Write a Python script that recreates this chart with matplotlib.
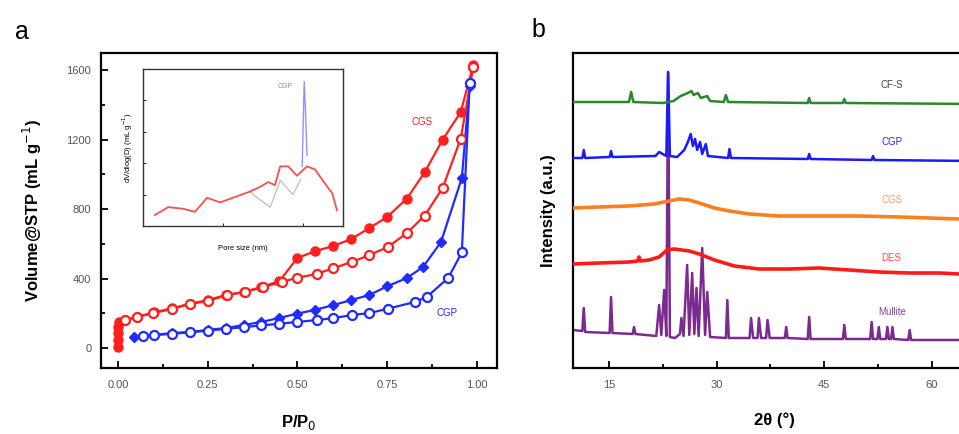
import numpy as np, matplotlib; matplotlib.use("Agg")
import matplotlib.pyplot as plt
from matplotlib.ticker import MultipleLocator

plt.rcParams['font.family'] = ['Liberation Sans', 'DejaVu Sans']

# --- (a) N2 isotherms ---
red_ads_x = [0.0, 0.0, 0.0, 0.0, 0.002, 0.02, 0.053, 0.1, 0.15, 0.2, 0.25, 0.3, 0.35, 0.4, 0.45,
             0.5, 0.55, 0.6, 0.65, 0.7, 0.75, 0.805, 0.855, 0.905, 0.955, 0.99]
red_ads_y = [5, 45, 85, 120, 150, 161, 178, 205, 228, 255, 275, 305, 322, 351, 385,
             518, 558, 587, 627, 690, 754, 860, 1013, 1200, 1358, 1630]
red_des_x = [0.99, 0.955, 0.905, 0.855, 0.805, 0.752, 0.70, 0.652, 0.60, 0.554, 0.50, 0.457,
             0.404, 0.354, 0.304, 0.25, 0.2, 0.15, 0.097, 0.053, 0.02]
red_des_y = [1620, 1205, 923, 762, 662, 581, 535, 495, 460, 426, 405, 380,
             351, 322, 305, 270, 253, 224, 201, 178, 161]
blue_ads_x = [0.045, 0.1, 0.15, 0.2, 0.25, 0.3, 0.35, 0.4, 0.45, 0.5, 0.55, 0.6, 0.65, 0.7,
              0.75, 0.805, 0.85, 0.9, 0.958, 0.98]
blue_ads_y = [63, 75, 86, 92, 104, 115, 132, 150, 173, 198, 220, 247, 276, 305,
              355, 403, 466, 610, 978, 1510]
blue_des_x = [0.98, 0.958, 0.92, 0.86, 0.827, 0.752, 0.70, 0.652, 0.60, 0.554, 0.5, 0.45,
              0.4, 0.35, 0.3, 0.25, 0.2, 0.15, 0.1, 0.07]
blue_des_y = [1525, 550, 403, 293, 265, 226, 201, 190, 172, 161, 150, 140,
              130, 120, 110, 100, 90, 82, 74, 68]

# inset: pore size distribution
psd_red_x = [3, 6.3, 10, 13, 16, 19.3, 22.5, 26.8, 29.3, 31.3, 33, 34.3, 36.3, 38.5, 41, 43, 45.5, 47.3, 48.5]
psd_red_y = [0.07, 0.12, 0.11, 0.09, 0.18, 0.15, 0.18, 0.22, 0.25, 0.28, 0.26, 0.38, 0.38, 0.32, 0.38, 0.36, 0.27, 0.21, 0.10]
psd_gray_x = [26.8, 28.5, 31.8, 34.3, 37.5, 39.5]
psd_gray_y = [0.22, 0.18, 0.12, 0.29, 0.20, 0.30]
psd_blue_x = [39.8, 40.3, 40.6, 41.0]
psd_blue_y = [0.38, 0.92, 0.75, 0.45]

# --- (b) XRD ---
cfs_x = [10, 17.8, 18.1, 18.4, 22.5, 24.0, 25.0, 26.0, 26.5, 26.8, 27.4, 27.8, 28.7, 29.1, 31.0, 31.3,
         31.6, 42.7, 42.9, 43.1, 47.6, 47.8, 48.0, 66]
cfs_y = [266, 266, 276, 266, 265, 267, 272, 275, 277, 273, 275, 270, 272, 267, 266, 273,
         266, 265, 270, 265, 265, 269, 265, 264]
cgp_x = [10, 11.3, 11.5, 11.7, 15.1, 15.3, 15.5, 21.5, 22.0, 22.5, 23.0, 23.25, 23.5, 24.5, 25.5, 26.0,
         26.4, 26.7, 27.0, 27.3, 27.7, 28.0, 28.5, 28.8, 31.6, 31.8, 32.0, 42.7, 42.9, 43.1, 51.6, 51.8, 52.0, 66]
cgp_y = [210, 210, 218, 210, 211, 217, 211, 212, 216, 214, 212, 296, 212, 211, 218, 226,
         234, 222, 229, 218, 226, 214, 224, 212, 210, 219, 210, 209, 214, 209, 208, 212, 208, 207]
cgs_x = [10, 13.6, 17.8, 21.3, 23.4, 24.8, 26.2, 27.6, 29.7, 31.8, 34.6, 38.7, 44.3, 49.9, 55.5, 59.7, 63.8, 66]
cgs_y = [160, 161, 162, 164, 167, 169, 168, 165, 160, 157, 154, 152, 152, 152, 151, 150, 149, 149]
des_x = [10, 13.6, 17.8, 19.0, 19.2, 19.4, 20.6, 22.0, 23.1, 24.1, 26.2, 27.6, 29.7, 32.5, 35.9, 40.2,
         44.3, 48.5, 52.6, 56.9, 61.1, 63.8, 66]
des_y = [104, 105, 106, 107, 111, 107, 108, 111, 118, 119, 117, 114, 108, 102, 99, 99,
         100, 98, 96, 95, 95, 94, 94]
mul_x = [10, 11.3, 11.5, 11.7, 15.1, 15.3, 15.5, 18.3, 18.5, 18.7, 21.6, 22.0, 22.3, 22.7, 23.0, 23.25,
         23.5, 24.2, 24.9, 25.1, 25.4, 25.9, 26.2, 26.6, 26.9, 27.2, 27.5, 28.0, 28.4, 28.7, 29.1, 31.3,
         31.5, 31.7, 34.6, 34.8, 35.1, 35.7, 35.9, 36.2, 36.9, 37.1, 37.4, 39.5, 39.7, 39.9, 42.7, 42.9,
         43.1, 47.6, 47.8, 48.0, 51.4, 51.6, 51.8, 52.4, 52.6, 52.8, 53.6, 53.8, 54.0, 54.3, 54.5, 54.7,
         56.7, 56.9, 57.1, 66]
mul_y = [38, 37, 60, 36, 35, 71, 35, 34, 41, 34, 32, 63, 33, 78, 32, 296,
         31, 30, 34, 50, 32, 103, 33, 95, 34, 80, 32, 120, 33, 76, 31, 30,
         68, 30, 30, 50, 30, 30, 50, 30, 30, 48, 30, 30, 41, 30, 29, 51,
         29, 29, 43, 29, 29, 46, 29, 29, 41, 29, 29, 41, 29, 29, 41, 29,
         28, 38, 28, 28]
xrd_names = ['CF-S', 'CGP', 'CGS', 'DES', 'Mullite']
xrd_label_y = [283, 226, 168, 110, 56]

RED, BLUE = '#ff1f1f', '#1f2bff'
fig = plt.figure(figsize=(9.59, 4.34), dpi=100)

# ---------- panel a ----------
ax = fig.add_axes([101/959, 66/434, 396/959, 315/434])
ax.plot(red_ads_x, red_ads_y, '-o', color=RED, mfc=RED, mec=RED, ms=6.5, lw=1.6, zorder=3)
ax.plot(red_des_x, red_des_y, '-o', color=RED, mfc='white', mec=RED, ms=6.5, mew=1.6, lw=1.6, zorder=4)
ax.plot(blue_ads_x, blue_ads_y, '-D', color=BLUE, mfc=BLUE, mec=BLUE, ms=5.5, lw=1.6, zorder=3)
ax.plot(blue_des_x, blue_des_y, '-o', color=BLUE, mfc='white', mec=BLUE, ms=6.5, mew=1.6, lw=1.6, zorder=4)
ax.text(0.847, 1300, 'CGS', color=RED, fontsize=7, ha='center', va='center')
ax.text(0.916, 200, 'CGP', color=BLUE, fontsize=7, ha='center', va='center')
ax.set_xlim(-0.047, 1.056); ax.set_ylim(-115, 1698)
ax.xaxis.set_minor_locator(MultipleLocator(0.125))
ax.yaxis.set_minor_locator(MultipleLocator(200))
ax.set_xticks([0, 0.25, 0.5, 0.75, 1.0], ['0.00', '0.25', '0.50', '0.75', '1.00'])
ax.set_yticks([0, 400, 800, 1200, 1600], ['0', '400', '800', '1200', '1600'])
ax.tick_params(direction='in', which='both', labelsize=8, labelcolor='#555555', width=1.3)
ax.tick_params(axis='x', pad=9); ax.tick_params(axis='y', pad=7)
ax.tick_params(which='major', length=5); ax.tick_params(which='minor', length=3)
for s in ax.spines.values(): s.set_linewidth(1.6)
ax.set_xlabel('P/P$_0$', fontsize=12, fontweight='bold', labelpad=16)
ax.set_ylabel('Volume@STP (mL g$^{-1}$)', fontsize=12, fontweight='bold', labelpad=16)
fig.text(22/959, 1-32/434, 'a', fontsize=18, ha='center', va='center')

# inset
ins = fig.add_axes([143/959, 208/434, 200/959, 157/434])
ins.plot(psd_gray_x, psd_gray_y, color='#888888', lw=0.8, alpha=0.6)
ins.plot(psd_red_x, psd_red_y, color=RED, lw=1.3, alpha=0.8)
ins.plot(psd_blue_x, psd_blue_y, color=BLUE, lw=1.0, alpha=0.5)
ins.text(35.5, 0.88, 'CGP', color=BLUE, fontsize=5, alpha=0.6, ha='center')
ins.set_xlim(0, 50); ins.set_ylim(0, 1.0)
ins.tick_params(direction='in', labelleft=False, labelbottom=False, length=2, width=0.6)
for s in ins.spines.values(): s.set_linewidth(1.0); s.set_color('#333333')
ins.set_xlabel('Pore size (nm)', fontsize=5.5, labelpad=14)
ins.set_ylabel('dV/dlog(D) (mL g$^{-1}$)', fontsize=5.5, labelpad=6)

# ---------- panel b ----------
bx = fig.add_axes([573/959, 66/434, 402/959, 315/434])
bx.plot(mul_x, mul_y, color='#7b2a8f', lw=1.8, zorder=2)
bx.plot(des_x, des_y, color='#ff1a1a', lw=2.6, zorder=3)
bx.plot(cgs_x, cgs_y, color='#ff7f1e', lw=2.6, zorder=3)
bx.plot(cgp_x, cgp_y, color='#1a1aff', lw=1.8, zorder=4)
bx.plot(cfs_x, cfs_y, color='#2a8a2a', lw=1.8, zorder=4)
lab_cols = ['#3a4a3a', '#2a2aff', '#ff9a60', '#ff5050', '#8a3a9a']
for name, ly, c in zip(xrd_names, xrd_label_y, lab_cols):
    bx.text(54.4, ly, name, color=c, fontsize=7, ha='center', va='center')
bx.set_xlim(10, 66); bx.set_ylim(0, 315)
bx.xaxis.set_minor_locator(MultipleLocator(7.5))
bx.set_xticks([15, 30, 45, 60], ['15', '30', '45', '60'])
bx.set_yticks([])
bx.tick_params(direction='in', which='both', labelsize=8, labelcolor='#555555', width=1.3, pad=9)
bx.tick_params(which='major', length=5); bx.tick_params(which='minor', length=3)
for s in bx.spines.values(): s.set_linewidth(1.6)
bx.set_xlabel('2θ (°)', fontsize=12, fontweight='bold', labelpad=16)
bx.set_ylabel('Intensity (a.u.)', fontsize=12, fontweight='bold', labelpad=12)
fig.text(538/959, 1-30/434, 'b', fontsize=18, ha='center', va='center')

fig.savefig('out.png', dpi=100)
